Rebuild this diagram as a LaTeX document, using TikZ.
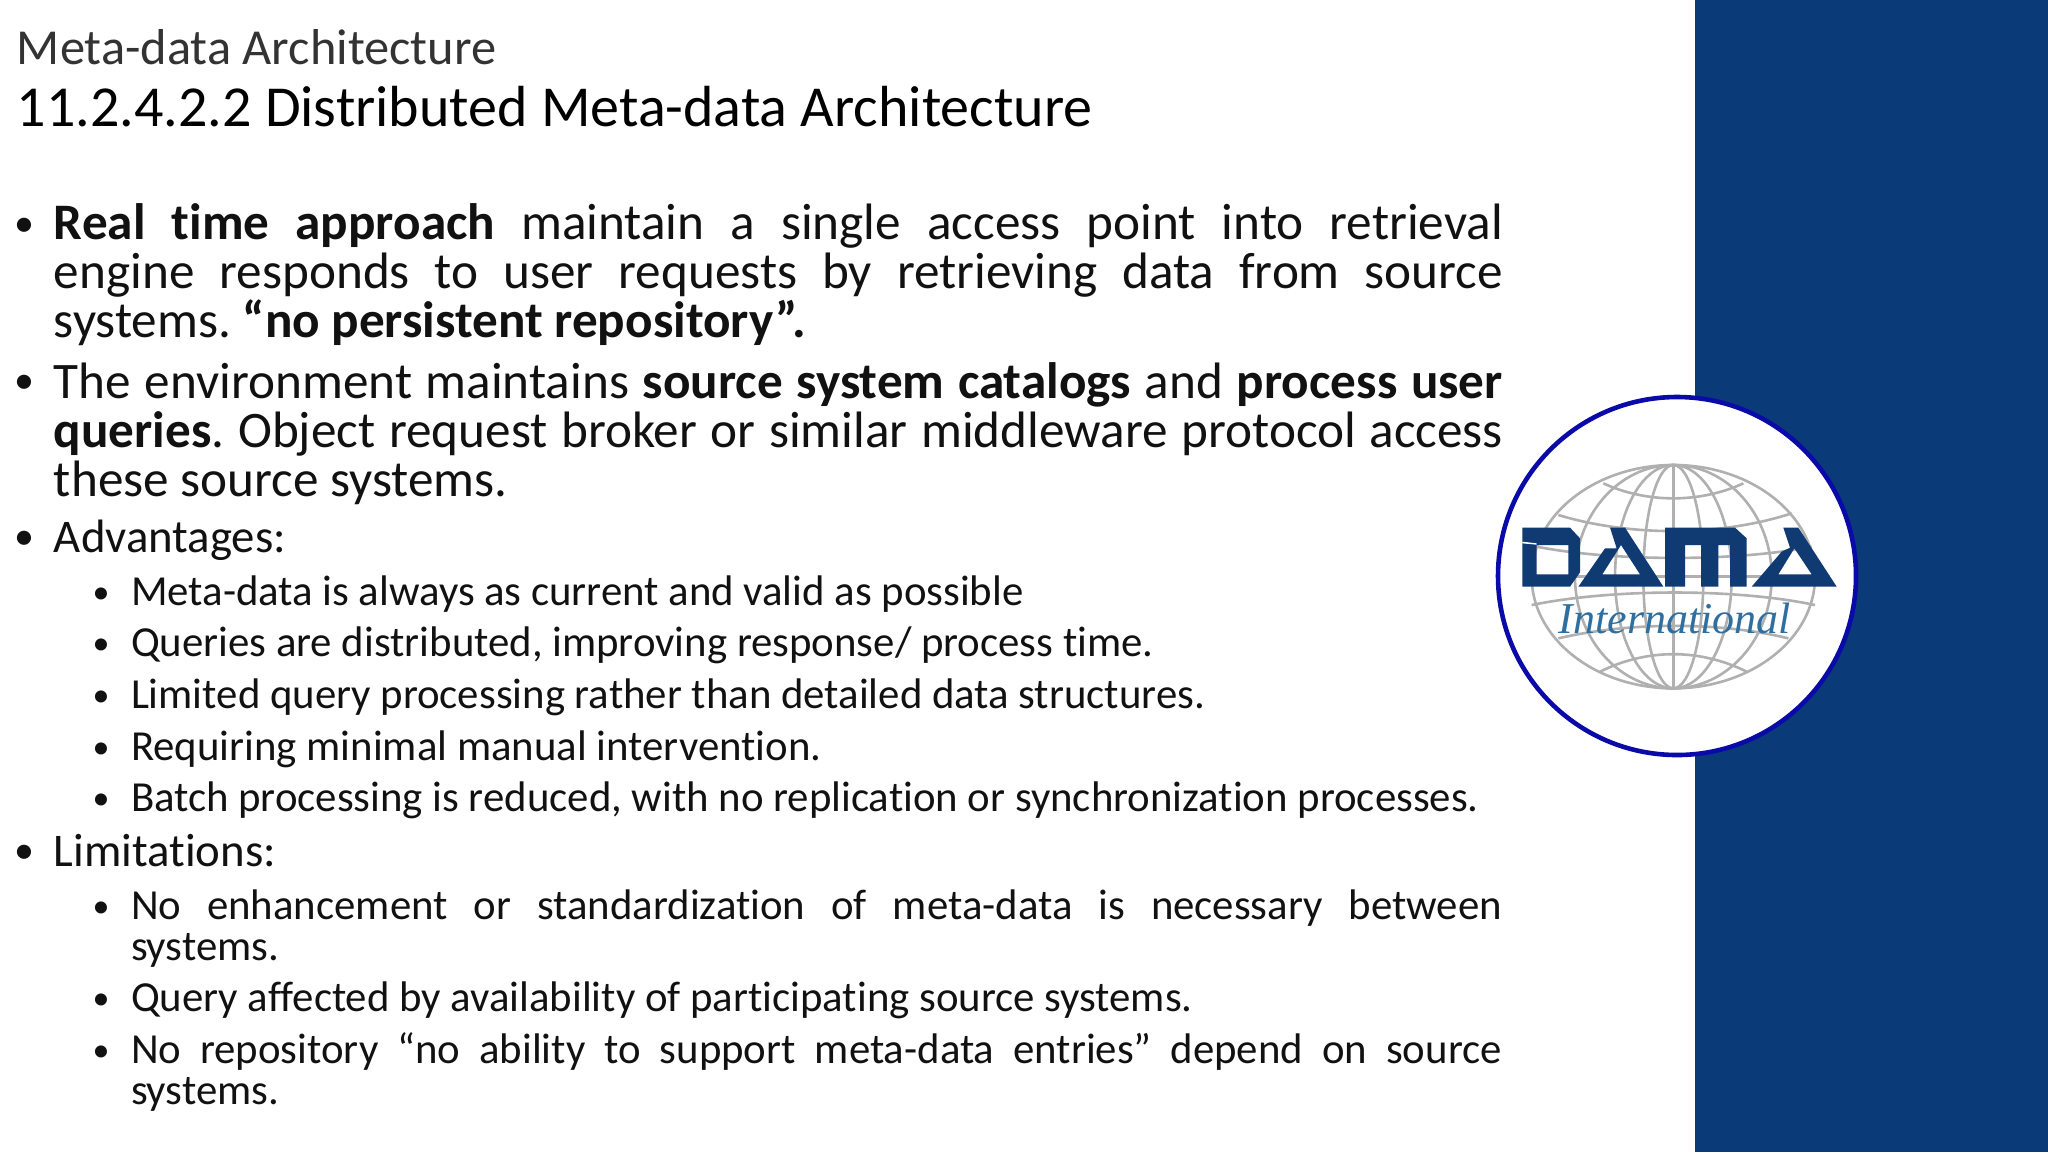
\documentclass[tikz,border=0pt]{standalone}
\usepackage{fontspec}
\setmainfont[Ligatures=NoCommon]{Carlito}
\newfontfamily\logofont{Liberation Serif}
\definecolor{panelblue}{HTML}{0B3A78}
\definecolor{ringblue}{HTML}{0A0AA8}
\definecolor{damablue}{HTML}{0F3A72}
\definecolor{globegray}{HTML}{B0B0B0}
\definecolor{intlblue}{HTML}{2F6F9F}
\definecolor{ink}{HTML}{111111}
\frenchspacing
\tikzset{
  ln/.style={anchor=base west,inner sep=0pt,outer sep=0pt,text=ink},
  big/.style={ln,font=\fontsize{25.6pt}{28pt}\selectfont},
  head/.style={ln,font=\fontsize{23.4pt}{26pt}\selectfont},
  small/.style={ln,font=\fontsize{21.4pt}{24pt}\selectfont},
  bigdot/.style={ln,font=\fontsize{20pt}{22pt}\selectfont},
  smalldot/.style={ln,font=\fontsize{17pt}{20pt}\selectfont},
  globeline/.style={draw=globegray,line width=1.3pt},
  damaglyph/.style={fill=damablue,even odd rule,draw=none}
}
\newcommand{\jl}[1]{\makebox[724.5pt][s]{#1}}
\newcommand{\js}[1]{\makebox[685.5pt][s]{#1}}
\begin{document}
\begin{tikzpicture}[x=0.5pt,y=-0.5pt]
\useasboundingbox (0,0) rectangle (2048,1152);
\fill[white] (0,0) rectangle (2048,1152);
\fill[panelblue] (1695,0) rectangle (2048,1152);
\node[ln,font=\fontsize{25.2pt}{28pt}\selectfont,text=black!80] (sup) at (17,64.5) {Meta-data Architecture};
\node[ln,font=\fontsize{29pt}{32pt}\selectfont,text=black] (ttl) at (17,126) {11.2.4.2.2 Distributed Meta-data Architecture};
% level one
\node[bigdot] (b1) at (14,236) {•};
\node[big] (a1) at (54,239.5) {\jl{\textbf{Real time approach} maintain a single access point into retrieval}};
\node[big] (a2) at (54,288.5) {\jl{engine responds to user requests by retrieving data from source}};
\node[big] (a3) at (54,337.5) {systems. \textbf{“no persistent repository”.}};
\node[bigdot] (b2) at (14,393) {•};
\node[big] (c1) at (54,398) {\jl{The environment maintains \textbf{source system catalogs} and \textbf{process user}}};
\node[big] (c2) at (54,447) {\jl{\textbf{queries}. Object request broker or similar middleware protocol access}};
\node[big] (c3) at (54,496) {these source systems.};
\node[bigdot] (b3) at (14,549) {•};
\node[head] (d1) at (54,552.5) {Advantages:};
\foreach \n/\y/\t in {e1/605.5/Meta-data is always as current and valid as possible,
  e2/656.5/{Queries are distributed, improving response/ process time.},
  e3/708.5/Limited query processing rather than detailed data structures.,
  e4/760.5/Requiring minimal manual intervention.,
  e5/811.5/{Batch processing is reduced, with no replication or synchronization processes.}}{
  \node[smalldot] (bu\n) at (92.5,\y-2) {•};
  \node[small] (\n) at (131,\y) {\t};
}
\node[bigdot] (b4) at (14,863) {•};
\node[head] (f1) at (54,866.5) {Limitations:};
\node[smalldot] (bg1) at (92.5,917) {•};
\node[small] (g1) at (131,919.5) {\js{No enhancement or standardization of meta-data is necessary between}};
\node[small] (g2) at (131,960.5) {systems.};
\node[smalldot] (bg3) at (92.5,1009) {•};
\node[small] (g3) at (131,1011.5) {Query affected by availability of participating source systems.};
\node[smalldot] (bg4) at (92.5,1061) {•};
\node[small] (g4) at (131,1063.5) {\js{No repository “no ability to support meta-data entries” depend on source}};
\node[small] (g5) at (131,1104.5) {systems.};
% logo ring
\draw[ringblue,line width=2.3pt,fill=white] (1677,576) circle [radius=179];
% globe
\begin{scope}[shift={(1480,380)},x=0.16667pt,y=-0.16667pt]
  \foreach \r in {425,295,175,90}{
    \draw[globeline] (580,590) ellipse [x radius=\r,y radius=335];
  }
  \draw[globeline] (580,255) -- (580,925);
  \draw[globeline] (370,310) .. controls (500,370) and (660,370) .. (790,310);
  \draw[globeline] (235,405) .. controls (450,470) and (720,470) .. (935,400);
  \draw[globeline] (170,500) .. controls (400,545) and (770,545) .. (995,500);
  \draw[globeline] (155,590) -- (1005,590);
  \draw[globeline] (155,675) .. controls (400,625) and (770,625) .. (1005,675);
  \draw[globeline] (235,775) .. controls (450,725) and (720,725) .. (925,775);
  \draw[globeline] (360,875) .. controls (500,805) and (660,805) .. (800,875);
\end{scope}
% DAMA letters
\begin{scope}[shift={(1515,515)},x=0.16667pt,y=-0.16667pt]
  \fill[damaglyph] (22,38) -- (165,38) -- (195,70) -- (195,172) -- (165,215) -- (22,215) -- cycle
     (65,90) -- (160,90) -- (160,178) -- (65,178) -- cycle;
  \fill[white] (22,80) -- (65,85) -- (65,89) -- (22,85) -- cycle;
  \fill[damaglyph] (285,38) -- (330,38) -- (445,215) -- (190,215) -- (270,100) -- (305,100) -- cycle
     (262,178) -- (375,178) -- (318,90) -- cycle;
  \fill[damablue] (450,38) -- (660,38) -- (695,70) -- (695,215) -- (645,215) -- (645,90) -- (610,90) -- (610,215) -- (558,215) -- (558,90) -- (510,90) -- (510,215) -- (450,215) -- cycle;
\end{scope}
\begin{scope}[shift={(1675,515)},x=0.16667pt,y=-0.16667pt]
  \fill[damaglyph] (325,38) -- (370,38) -- (485,215) -- (230,215) -- (320,110) -- (345,98) -- cycle
     (310,178) -- (410,178) -- (358,100) -- cycle;
\end{scope}
\node[anchor=base,inner sep=0pt,text=intlblue,font=\logofont\itshape\fontsize{22pt}{24pt}\selectfont] (intl) at (1675,633) {International};
\end{tikzpicture}
\end{document}
